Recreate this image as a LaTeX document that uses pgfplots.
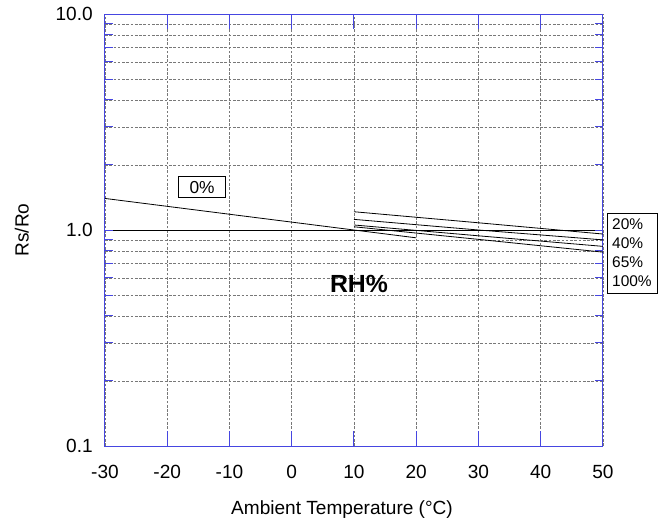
\documentclass[border=0pt]{standalone}
\usepackage{fontspec}
\setmainfont{Liberation Sans}
\usepackage{pgfplots}
\pgfplotsset{compat=1.18}
\definecolor{axisblue}{RGB}{70,70,225}
\definecolor{gridgray}{RGB}{120,120,120}

\begin{document}
\begin{tikzpicture}
\begin{axis}[
    scale only axis,
    width=373.5pt, height=324pt,
    ymode=log,
    xmin=-30, xmax=50, ymin=0.1, ymax=10,
    clip=false,
    xtick={-30,-20,-10,0,10,20,30,40,50},
    xticklabels={-30,-20,-10,0,10,20,30,40,50},
    ytick={0.1,1,10},
    yticklabels={0.1,1.0,10.0},
    minor ytick={0.2,0.3,0.4,0.5,0.6,0.7,0.8,0.9,2,3,4,5,6,7,8,9},
    /pgf/number format/assume math mode=true,
    font=\fontsize{14.3}{17}\selectfont,
    axis line style={axisblue, line width=0.75pt},
    tick style={axisblue, line width=0.75pt},
    tick align=inside,
    x tick style={/pgfplots/major tick length=11pt},
    y tick style={/pgfplots/major tick length=6pt, /pgfplots/minor tick length=6pt},
    xmajorgrids, ymajorgrids, yminorgrids,
    major x grid style={gridgray, dash pattern=on 2pt off 1.2pt, line width=0.45pt},
    minor y grid style={gridgray, dash pattern=on 2pt off 1.2pt, line width=0.45pt},
    major y grid style={black, line width=0.6pt},
    xticklabel style={anchor=center, yshift=-19.5pt},
    yticklabel style={anchor=east, inner sep=0pt, xshift=-9pt},
    xlabel={Ambient Temperature (°C)},
    ylabel={Rs/Ro},
    xlabel style={at={(axis description cs:0.476,-0.148)}, anchor=center},
    ylabel style={at={(axis description cs:-0.167,0.5)}, anchor=center},
]
% 0% RH
\addplot[black, line width=0.6pt] coordinates {(-30,1.40) (-10,1.183) (10,1.0) (20,0.92)};
% 20% RH
\addplot[black, line width=0.6pt] coordinates {(10,1.215) (30,1.08) (50,0.958)};
% 40% RH
\addplot[black, line width=0.6pt] coordinates {(10,1.12) (30,1.0) (50,0.90)};
% 65% RH
\addplot[black, line width=0.6pt] coordinates {(10,1.055) (30,0.94) (50,0.84)};
% 100% RH
\addplot[black, line width=0.6pt] coordinates {(10,1.035) (30,0.905) (50,0.79)};

\node[draw=black, fill=white, line width=0.5pt, inner sep=0pt, minimum width=35pt, minimum height=15.75pt,
      font=\fontsize{13}{15}\selectfont] at (axis cs:-14.4,1.58) {0\%};
\node[draw=black, fill=white, line width=0.5pt, inner sep=0pt, minimum width=37.5pt, minimum height=60pt,
      align=left, font=\fontsize{11.6}{14.25}\selectfont] at (axis cs:54.65,0.782) {20\%\\40\%\\65\%\\100\%};
\node[font=\bfseries\fontsize{18.6}{20}\selectfont] at (axis cs:10.8,0.562) {RH\%};
\end{axis}
\path ([xshift=-78.75pt, yshift=-59.25pt]current axis.south west)
      rectangle ([xshift=46.5pt, yshift=10.5pt]current axis.north east);
\end{tikzpicture}
\end{document}
